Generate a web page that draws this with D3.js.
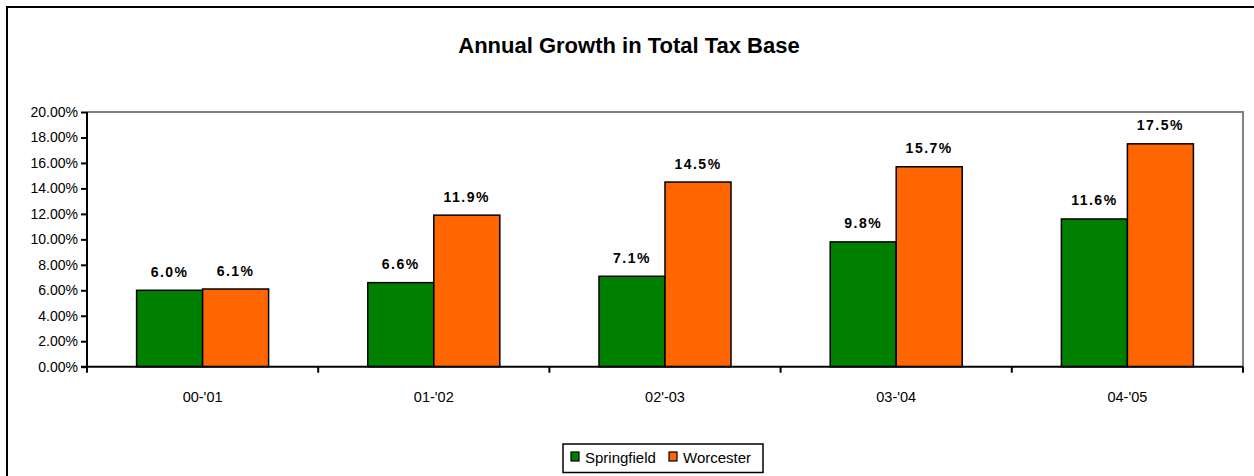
<!DOCTYPE html>
<html>
<head>
<meta charset="utf-8">
<script src="https://cdn.jsdelivr.net/npm/d3@7"></script>
<style>
  html, body { margin: 0; padding: 0; background: #fff; }
  svg { display: block; font-family: "Liberation Sans", Arial, sans-serif; }
</style>
</head>
<body>
<svg id="chart" width="1254" height="476"></svg>
<script>
// Chart data
const categories = ["00-'01", "01-'02", "02'-03", "03-'04", "04-'05"];
const seriesNames = ["Springfield", "Worcester"];
const springfield = [6.0, 6.6, 7.1, 9.8, 11.6];
const worcester = [6.1, 11.9, 14.5, 15.7, 17.5];
const yTicks = [0, 2, 4, 6, 8, 10, 12, 14, 16, 18, 20];
const colors = ["#008000", "#FF6600"];

const seriesValues = [springfield, worcester];
const rows = categories.map((c, i) => ({
  cat: c,
  vals: seriesNames.map((s, j) => ({ name: s, value: seriesValues[j][i], color: colors[j] }))
}));

const svg = d3.select("#chart");

// Outer chart frame
svg.append("rect")
  .attr("x", 7).attr("y", 7)
  .attr("width", 1270).attr("height", 490)
  .attr("fill", "#fff").attr("stroke", "#000").attr("stroke-width", 2);

const plot = { left: 87, right: 1243, top: 112, bottom: 366.7 };

// Title
svg.append("text")
  .attr("x", 629).attr("y", 53)
  .attr("text-anchor", "middle")
  .attr("font-size", "22px").attr("font-weight", "bold")
  .text("Annual Growth in Total Tax Base");

const x0 = d3.scaleBand().domain(categories).range([plot.left, plot.right]).padding(0);
const bw = x0.bandwidth();
const x1 = d3.scaleBand().domain(seriesNames).range([bw * 0.2145, bw * 0.7855]).padding(0);
const y = d3.scaleLinear().domain([0, 20]).range([plot.bottom, plot.top]);

// Plot area border (top and right, grey)
svg.append("path")
  .attr("d", `M${plot.left},${plot.top}H${plot.right}V${plot.bottom}`)
  .attr("fill", "none").attr("stroke", "#808080").attr("stroke-width", 2);

// Bars
const groups = svg.append("g").selectAll("g").data(rows).join("g")
  .attr("transform", d => `translate(${x0(d.cat)},0)`);

groups.selectAll("rect").data(d => d.vals).join("rect")
  .attr("x", d => x1(d.name))
  .attr("y", d => y(d.value))
  .attr("width", x1.bandwidth())
  .attr("height", d => y(0) - y(d.value))
  .attr("fill", d => d.color)
  .attr("stroke", "#000").attr("stroke-width", 1.5);

// Value labels
groups.selectAll("text").data(d => d.vals).join("text")
  .attr("x", d => x1(d.name) + x1.bandwidth() / 2)
  .attr("y", d => y(d.value) - 13.5)
  .attr("text-anchor", "middle")
  .attr("font-size", "14px").attr("font-weight", "bold")
  .attr("letter-spacing", "1.5px")
  .text(d => d.value.toFixed(1) + "%");

// Y axis
const yAxis = d3.axisLeft(y).tickValues(yTicks).tickSize(6).tickPadding(3)
  .tickFormat(d => d.toFixed(2) + "%");
const gy = svg.append("g").attr("transform", `translate(${plot.left},0)`).call(yAxis);
gy.select(".domain").attr("stroke", "#000").attr("stroke-width", 2).attr("d", `M0,${plot.top}V${plot.bottom + 6}`);
gy.selectAll(".tick line").attr("stroke", "#000").attr("stroke-width", 2);
gy.selectAll(".tick text").attr("font-size", "14px").attr("fill", "#000")
  .attr("font-family", "'Liberation Sans', Arial, sans-serif");

// X axis: ticks at category boundaries, labels centred in each category
const gx = svg.append("g");
gx.append("line")
  .attr("x1", plot.left - 6).attr("x2", plot.right)
  .attr("y1", plot.bottom).attr("y2", plot.bottom)
  .attr("stroke", "#000").attr("stroke-width", 2);
const boundaries = categories.map(c => x0(c) + bw);
gx.selectAll("line.tick").data(boundaries).join("line")
  .attr("class", "tick")
  .attr("x1", d => d).attr("x2", d => d)
  .attr("y1", plot.bottom).attr("y2", plot.bottom + 6)
  .attr("stroke", "#000").attr("stroke-width", 2);
gx.selectAll("text").data(categories).join("text")
  .attr("x", d => x0(d) + bw / 2)
  .attr("y", 402)
  .attr("text-anchor", "middle")
  .attr("font-size", "14.5px")
  .text(d => d);

// Legend
const legend = svg.append("g");
legend.append("rect")
  .attr("x", 563).attr("y", 444).attr("width", 200).attr("height", 28.5)
  .attr("fill", "#fff").attr("stroke", "#000").attr("stroke-width", 1.5);
const legendX = [571, 669];
const items = legend.selectAll("g.item").data(seriesNames).join("g")
  .attr("class", "item")
  .attr("transform", (d, i) => `translate(${legendX[i]},0)`);
items.append("rect")
  .attr("x", 0).attr("y", 452).attr("width", 8).attr("height", 9)
  .attr("fill", (d, i) => colors[i]).attr("stroke", "#000").attr("stroke-width", 1.2);
items.append("text")
  .attr("x", 14).attr("y", 462.5)
  .attr("font-size", "15px")
  .text(d => d);
</script>
</body>
</html>
